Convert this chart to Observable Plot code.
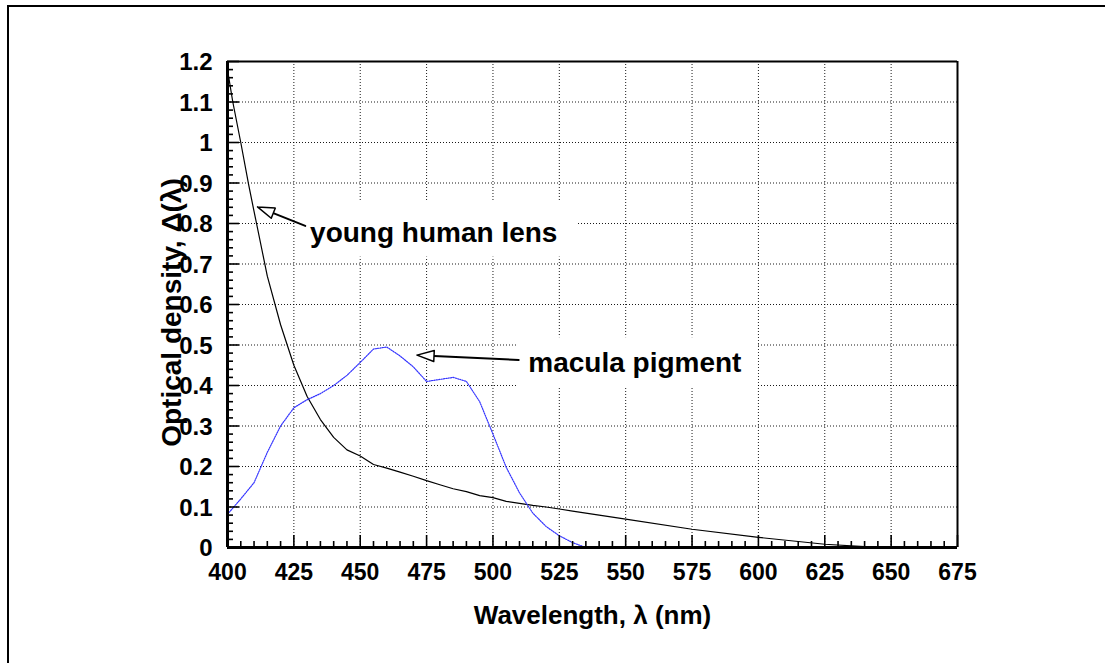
<!DOCTYPE html>
<html>
<head>
<meta charset="utf-8">
<script src="https://cdn.jsdelivr.net/npm/d3@7"></script>
<script src="https://cdn.jsdelivr.net/npm/@observablehq/plot@0.6"></script>
<style>
  html, body { margin: 0; padding: 0; background: #fff; }
  #wrap { position: relative; width: 1105px; height: 663px; overflow: hidden; }
  #frame { position: absolute; left: 7px; top: 5px; width: 1200px; height: 800px;
           border-left: 2px solid #000; border-top: 2px solid #000; pointer-events: none; }
  svg { position: absolute; left: 0; top: 0; }
</style>
</head>
<body>
<div id="wrap"><div id="frame"></div></div>
<script>
// ---- data ----
const lensWl = [400,402,405,408,410,415,420,425,430,435,440,445,450,455,460,465,470,475,480,485,490,495,500,505,510,515,520,525,530,540,550,575,600,625,640,650];
const lensOd = [1.18,1.10,1.0,0.895,0.83,0.67,0.55,0.45,0.373,0.316,0.272,0.241,0.226,0.205,0.196,0.186,0.176,0.165,0.155,0.145,0.138,0.128,0.123,0.114,0.109,0.104,0.100,0.095,0.090,0.080,0.070,0.045,0.025,0.008,0.002,0.0];
const macWl = [400,405,410,415,420,425,430,435,440,445,450,455,460,465,470,475,480,485,490,495,500,505,510,515,520,525,530,535];
const macOd = [0.082,0.12,0.16,0.235,0.30,0.345,0.365,0.38,0.40,0.425,0.457,0.490,0.495,0.473,0.446,0.41,0.415,0.42,0.41,0.36,0.28,0.198,0.135,0.085,0.052,0.029,0.012,0.0];
const xTicks = [400,425,450,475,500,525,550,575,600,625,650,675];
const yTicks = [0,0.1,0.2,0.3,0.4,0.5,0.6,0.7,0.8,0.9,1,1.1,1.2];
const xTitle = "Wavelength, λ (nm)";
const yTitle = "Optical density, Δ(λ)";
const labelText = ["young human lens", "macula pigment"];
const labelAt = [[431.1, 0.755], [513.3, 0.433]];            // text start, baseline
const labelBox = [[425.8, 531.7, 0.717, 0.856], [509.5, 599.9, 0.394, 0.518]];
const arrowTip = [[411.3, 0.841], [471.4, 0.475]];
const arrowTail = [[429.3, 0.794], [509.7, 0.463]];

// ---- layout ----
const W = 1105, H = 663, ML = 227, MR = 148, MT = 61, MB = 116;
const xDom = [400, 675], yDom = [0, 1.2];
const kx = (W - ML - MR) / (xDom[1] - xDom[0]);
const ky = (H - MT - MB) / (yDom[1] - yDom[0]);
const FONT = "Liberation Sans, Arial, sans-serif";

const lens = lensWl.map((x, i) => ({x, y: lensOd[i]}));
const mac = macWl.map((x, i) => ({x, y: macOd[i]}));
const minorX = d3.range(400, 676, 5).filter(v => v % 25 !== 0);
const minorY = d3.range(0, 61).map(i => +(i * 0.02).toFixed(2)).filter((v, i) => i % 5 !== 0);

// arrow heads (open triangles), computed in pixel space then mapped to data
function head(tip, tail, len = 17, half = 5.5) {
  const dxp = (tail[0] - tip[0]) * kx, dyp = -(tail[1] - tip[1]) * ky;
  const L = Math.hypot(dxp, dyp), ux = dxp / L, uy = dyp / L;
  const bx = ux * len, by = uy * len;
  const pts = [[0, 0], [bx - uy * half, by + ux * half], [bx + uy * half, by - ux * half], [0, 0]];
  return pts.map(([px, py]) => ({x: tip[0] + px / kx, y: tip[1] - py / ky}));
}
function shaft(tip, tail, len = 17) {
  const dxp = (tail[0] - tip[0]) * kx, dyp = -(tail[1] - tip[1]) * ky;
  const L = Math.hypot(dxp, dyp);
  const f = len / L;
  return [{x: tip[0] + (tail[0] - tip[0]) * f, y: tip[1] + (tail[1] - tip[1]) * f}, {x: tail[0], y: tail[1]}];
}

const marks = [
  // grid
  Plot.ruleX(xTicks.slice(1, -1), {stroke: "#000", strokeWidth: 1, strokeDasharray: "1,2", strokeOpacity: 0.9}),
  Plot.ruleY(yTicks.slice(1, -1), {stroke: "#000", strokeWidth: 1, strokeDasharray: "1,2", strokeOpacity: 0.9}),
  // label backgrounds
  Plot.rect(labelBox, {x1: d => d[0], x2: d => d[1], y1: d => d[2], y2: d => d[3], fill: "#fff"}),
  // curves
  Plot.line(lens, {x: "x", y: "y", stroke: "#000", strokeWidth: 1.2}),
  Plot.line(mac, {x: "x", y: "y", stroke: "#3333ff", strokeWidth: 1.2, strokeDasharray: "1.2,1.2"}),
  // minor/major ticks (inward)
  Plot.ruleX(minorX, {y1: 0, y2: 6 / ky, stroke: "#000", strokeWidth: 1.6}),
  Plot.ruleX(xTicks, {y1: 0, y2: 12 / ky, stroke: "#000", strokeWidth: 1.6}),
  Plot.ruleY(minorY, {x1: 400, x2: 400 + 6 / kx, stroke: "#000", strokeWidth: 1.6}),
  Plot.ruleY(yTicks, {x1: 400, x2: 400 + 12 / kx, stroke: "#000", strokeWidth: 1.6}),
  // frame
  Plot.ruleY([1.2], {stroke: "#000", strokeWidth: 2}),
  Plot.ruleX([675], {stroke: "#000", strokeWidth: 2}),
  Plot.ruleY([0], {stroke: "#000", strokeWidth: 3}),
  Plot.ruleX([400], {stroke: "#000", strokeWidth: 3}),
  // tick labels
  Plot.text(xTicks, {x: d => d, y: 0, dy: 32, lineAnchor: "bottom", text: d => String(d),
    fontSize: 23, fontWeight: "bold", fontFamily: FONT, fill: "#000"}),
  Plot.text(yTicks, {x: 400, y: d => d, dx: -15, dy: 1, textAnchor: "end", text: d => String(d),
    fontSize: 24, fontWeight: "bold", fontFamily: FONT, fill: "#000"}),
  // axis titles
  Plot.text([xTitle], {frameAnchor: "bottom", dy: 76, lineAnchor: "bottom", textAnchor: "middle", text: d => d,
    fontSize: 26, fontWeight: "bold", fontFamily: FONT, fill: "#000"}),
  Plot.text([yTitle], {frameAnchor: "left", dx: -47, dy: 8, rotate: -90, lineAnchor: "bottom", textAnchor: "middle", text: d => d,
    fontSize: 28, fontWeight: "bold", fontFamily: FONT, fill: "#000"}),
  // annotations
  Plot.text(labelText, {x: (d, i) => labelAt[i][0], y: (d, i) => labelAt[i][1], text: d => d,
    textAnchor: "start", lineAnchor: "bottom", fontSize: 28, fontWeight: "bold", fontFamily: FONT, fill: "#000"})
];
arrowTip.forEach((tip, i) => {
  marks.push(Plot.line(shaft(tip, arrowTail[i]), {x: "x", y: "y", stroke: "#000", strokeWidth: 2}));
  marks.push(Plot.line(head(tip, arrowTail[i]), {x: "x", y: "y", stroke: "#000", strokeWidth: 1.5, fill: "#fff"}));
});

const chart = Plot.plot({
  width: W, height: H,
  marginLeft: ML, marginRight: MR, marginTop: MT, marginBottom: MB,
  x: {domain: xDom, axis: null},
  y: {domain: yDom, axis: null},
  style: {background: "transparent", overflow: "visible"},
  marks
});
document.getElementById("wrap").appendChild(chart);
</script>
</body>
</html>
